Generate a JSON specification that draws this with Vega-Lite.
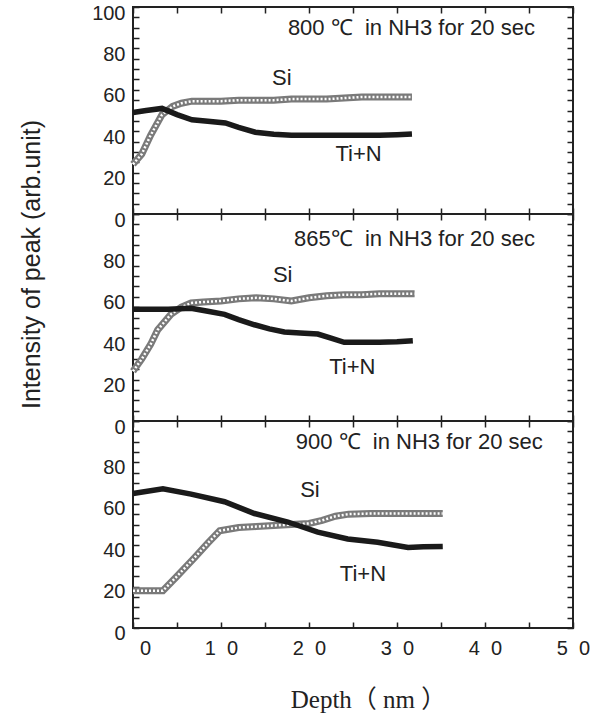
{
  "$schema": "https://vega.github.io/schema/vega-lite/v6.json",
  "padding": {"left": 17, "top": 2, "right": 5, "bottom": 5},
  "spacing": 0,
  "bounds": "flush",
  "config": {
    "view": {"stroke": "#222", "strokeWidth": 2},
    "font": "Liberation Sans",
    "axis": {"domain": false, "grid": false, "tickColor": "#222", "tickWidth": 1.5, "labelFont": "Liberation Sans", "labelFontSize": 20, "labelColor": "#222", "titleColor": "#222", "labelFlush": false, "labelOverlap": false},
    "text": {"font": "Liberation Sans", "fontSize": 22, "color": "#222"}
  },
  "datasets": {
    "lines": [
      {"panel": "800", "series": "Si", "depth": 0, "intensity": 24},
      {"panel": "800", "series": "Si", "depth": 1, "intensity": 29},
      {"panel": "800", "series": "Si", "depth": 2, "intensity": 38},
      {"panel": "800", "series": "Si", "depth": 3.3, "intensity": 48},
      {"panel": "800", "series": "Si", "depth": 4.5, "intensity": 52},
      {"panel": "800", "series": "Si", "depth": 5.5, "intensity": 53.5},
      {"panel": "800", "series": "Si", "depth": 6.7, "intensity": 54.5},
      {"panel": "800", "series": "Si", "depth": 8, "intensity": 54.5},
      {"panel": "800", "series": "Si", "depth": 10, "intensity": 54.5},
      {"panel": "800", "series": "Si", "depth": 12, "intensity": 55},
      {"panel": "800", "series": "Si", "depth": 14, "intensity": 55},
      {"panel": "800", "series": "Si", "depth": 16, "intensity": 55},
      {"panel": "800", "series": "Si", "depth": 18, "intensity": 55.5},
      {"panel": "800", "series": "Si", "depth": 20, "intensity": 55.5},
      {"panel": "800", "series": "Si", "depth": 22, "intensity": 55.5},
      {"panel": "800", "series": "Si", "depth": 24, "intensity": 56},
      {"panel": "800", "series": "Si", "depth": 26, "intensity": 56.5},
      {"panel": "800", "series": "Si", "depth": 28, "intensity": 56.5},
      {"panel": "800", "series": "Si", "depth": 30, "intensity": 56.5},
      {"panel": "800", "series": "Si", "depth": 31.7, "intensity": 56.5},
      {"panel": "800", "series": "Ti+N", "depth": 0, "intensity": 49},
      {"panel": "800", "series": "Ti+N", "depth": 1.5, "intensity": 50},
      {"panel": "800", "series": "Ti+N", "depth": 3.3, "intensity": 51},
      {"panel": "800", "series": "Ti+N", "depth": 5, "intensity": 48},
      {"panel": "800", "series": "Ti+N", "depth": 6.7, "intensity": 45.5},
      {"panel": "800", "series": "Ti+N", "depth": 8.5, "intensity": 44.8},
      {"panel": "800", "series": "Ti+N", "depth": 10.5, "intensity": 44},
      {"panel": "800", "series": "Ti+N", "depth": 12, "intensity": 41.8},
      {"panel": "800", "series": "Ti+N", "depth": 13.9, "intensity": 39.5},
      {"panel": "800", "series": "Ti+N", "depth": 16, "intensity": 38.5},
      {"panel": "800", "series": "Ti+N", "depth": 18, "intensity": 38},
      {"panel": "800", "series": "Ti+N", "depth": 20, "intensity": 38},
      {"panel": "800", "series": "Ti+N", "depth": 22, "intensity": 38},
      {"panel": "800", "series": "Ti+N", "depth": 24, "intensity": 38},
      {"panel": "800", "series": "Ti+N", "depth": 26, "intensity": 38},
      {"panel": "800", "series": "Ti+N", "depth": 28, "intensity": 38},
      {"panel": "800", "series": "Ti+N", "depth": 30, "intensity": 38.3},
      {"panel": "800", "series": "Ti+N", "depth": 31.7, "intensity": 38.7},
      {"panel": "865", "series": "Si", "depth": 0, "intensity": 24},
      {"panel": "865", "series": "Si", "depth": 1, "intensity": 30},
      {"panel": "865", "series": "Si", "depth": 2, "intensity": 37},
      {"panel": "865", "series": "Si", "depth": 2.8, "intensity": 44},
      {"panel": "865", "series": "Si", "depth": 4.3, "intensity": 51.5},
      {"panel": "865", "series": "Si", "depth": 5.5, "intensity": 55},
      {"panel": "865", "series": "Si", "depth": 6.6, "intensity": 57},
      {"panel": "865", "series": "Si", "depth": 8, "intensity": 57.5},
      {"panel": "865", "series": "Si", "depth": 10, "intensity": 58},
      {"panel": "865", "series": "Si", "depth": 12, "intensity": 59},
      {"panel": "865", "series": "Si", "depth": 14, "intensity": 59.5},
      {"panel": "865", "series": "Si", "depth": 16, "intensity": 59},
      {"panel": "865", "series": "Si", "depth": 18, "intensity": 58},
      {"panel": "865", "series": "Si", "depth": 20, "intensity": 59.5},
      {"panel": "865", "series": "Si", "depth": 22, "intensity": 60.5},
      {"panel": "865", "series": "Si", "depth": 24, "intensity": 61},
      {"panel": "865", "series": "Si", "depth": 26, "intensity": 61},
      {"panel": "865", "series": "Si", "depth": 28, "intensity": 61.5},
      {"panel": "865", "series": "Si", "depth": 30, "intensity": 61.5},
      {"panel": "865", "series": "Si", "depth": 32, "intensity": 61.5},
      {"panel": "865", "series": "Ti+N", "depth": 0, "intensity": 54},
      {"panel": "865", "series": "Ti+N", "depth": 2, "intensity": 54},
      {"panel": "865", "series": "Ti+N", "depth": 4, "intensity": 54},
      {"panel": "865", "series": "Ti+N", "depth": 6.6, "intensity": 54.5},
      {"panel": "865", "series": "Ti+N", "depth": 8.5, "intensity": 53},
      {"panel": "865", "series": "Ti+N", "depth": 10.4, "intensity": 51.5},
      {"panel": "865", "series": "Ti+N", "depth": 12, "intensity": 49},
      {"panel": "865", "series": "Ti+N", "depth": 13.8, "intensity": 46.5},
      {"panel": "865", "series": "Ti+N", "depth": 15.5, "intensity": 44.5},
      {"panel": "865", "series": "Ti+N", "depth": 17.2, "intensity": 43},
      {"panel": "865", "series": "Ti+N", "depth": 19, "intensity": 42.5},
      {"panel": "865", "series": "Ti+N", "depth": 21, "intensity": 42},
      {"panel": "865", "series": "Ti+N", "depth": 22.5, "intensity": 40},
      {"panel": "865", "series": "Ti+N", "depth": 24, "intensity": 38},
      {"panel": "865", "series": "Ti+N", "depth": 26, "intensity": 38},
      {"panel": "865", "series": "Ti+N", "depth": 28, "intensity": 38},
      {"panel": "865", "series": "Ti+N", "depth": 30, "intensity": 38.3},
      {"panel": "865", "series": "Ti+N", "depth": 31.8, "intensity": 38.8},
      {"panel": "900", "series": "Si", "depth": 0, "intensity": 18},
      {"panel": "900", "series": "Si", "depth": 3.4, "intensity": 18},
      {"panel": "900", "series": "Si", "depth": 5, "intensity": 25},
      {"panel": "900", "series": "Si", "depth": 7, "intensity": 34},
      {"panel": "900", "series": "Si", "depth": 8.5, "intensity": 41},
      {"panel": "900", "series": "Si", "depth": 9.85, "intensity": 47},
      {"panel": "900", "series": "Si", "depth": 12, "intensity": 48.5},
      {"panel": "900", "series": "Si", "depth": 14, "intensity": 49},
      {"panel": "900", "series": "Si", "depth": 16, "intensity": 49.5},
      {"panel": "900", "series": "Si", "depth": 18, "intensity": 50},
      {"panel": "900", "series": "Si", "depth": 20, "intensity": 50.5},
      {"panel": "900", "series": "Si", "depth": 21.5, "intensity": 52},
      {"panel": "900", "series": "Si", "depth": 23, "intensity": 54},
      {"panel": "900", "series": "Si", "depth": 24.5, "intensity": 55},
      {"panel": "900", "series": "Si", "depth": 27, "intensity": 55.3},
      {"panel": "900", "series": "Si", "depth": 30, "intensity": 55.3},
      {"panel": "900", "series": "Si", "depth": 33, "intensity": 55.3},
      {"panel": "900", "series": "Si", "depth": 35.2, "intensity": 55.3},
      {"panel": "900", "series": "Ti+N", "depth": 0, "intensity": 65},
      {"panel": "900", "series": "Ti+N", "depth": 3.4, "intensity": 67.3},
      {"panel": "900", "series": "Ti+N", "depth": 6.6, "intensity": 64.7},
      {"panel": "900", "series": "Ti+N", "depth": 10.4, "intensity": 61},
      {"panel": "900", "series": "Ti+N", "depth": 13.8, "intensity": 55.3},
      {"panel": "900", "series": "Ti+N", "depth": 17.6, "intensity": 51.2},
      {"panel": "900", "series": "Ti+N", "depth": 21, "intensity": 46.3},
      {"panel": "900", "series": "Ti+N", "depth": 24.4, "intensity": 43},
      {"panel": "900", "series": "Ti+N", "depth": 27.8, "intensity": 41.4},
      {"panel": "900", "series": "Ti+N", "depth": 31.25, "intensity": 38.9},
      {"panel": "900", "series": "Ti+N", "depth": 33, "intensity": 39.2},
      {"panel": "900", "series": "Ti+N", "depth": 35.2, "intensity": 39.4}
    ],
    "labels": [
      {"panel": "800", "text": "800 ℃\u00a0 in NH3 for 20 sec", "depth": 17.6, "intensity": 90},
      {"panel": "800", "text": "Si", "depth": 15.8, "intensity": 65.7},
      {"panel": "800", "text": "Ti+N", "depth": 23, "intensity": 29},
      {"panel": "865", "text": "865℃\u00a0 in NH3 for 20 sec", "depth": 18.3, "intensity": 88},
      {"panel": "865", "text": "Si", "depth": 15.9, "intensity": 70.6},
      {"panel": "865", "text": "Ti+N", "depth": 22.3, "intensity": 26},
      {"panel": "900", "text": "900 ℃\u00a0 in NH3 for 20 sec", "depth": 18.5, "intensity": 90},
      {"panel": "900", "text": "Si", "depth": 19, "intensity": 66.5},
      {"panel": "900", "text": "Ti+N", "depth": 23.5, "intensity": 26}
    ]
  },
  "vconcat": [
    {
      "width": 440, "height": 207,
      "layer": [
        {"data": {"name": "lines"}, "transform": [{"filter": "datum.panel == '800' && datum.series == 'Si'"}],
         "mark": {"type": "line", "color": "#7a7a7a", "strokeWidth": 7},
         "encoding": {
           "x": {"field": "depth", "type": "quantitative", "scale": {"domain": [0, 50]}, "axis": null},
           "y": {"field": "intensity", "type": "quantitative", "scale": {"domain": [0, 100]}, "axis": {"orient": "left", "values": [0, 20, 40, 60, 80, 100], "ticks": false, "labelPadding": 8, "labelOffset": 6, "title": null}}}},
        {"data": {"name": "lines"}, "transform": [{"filter": "datum.panel == '800' && datum.series == 'Si'"}],
         "mark": {"type": "line", "color": "#ffffff", "strokeWidth": 2.5, "strokeDash": [2, 2]},
         "encoding": {
           "x": {"field": "depth", "type": "quantitative", "axis": {"orient": "bottom", "values": [0,5,10,15,20,25,30,35,40,45,50], "labels": false, "title": null, "tickSize": -6}},
           "y": {"field": "intensity", "type": "quantitative", "axis": {"orient": "left", "values": [0,5,10,15,20,25,30,35,40,45,50,55,60,65,70,75,80,85,90,95,100], "labels": false, "title": null, "tickSize": -6}}}},
        {"data": {"name": "lines"}, "transform": [{"filter": "datum.panel == '800' && datum.series == 'Ti+N'"}],
         "mark": {"type": "line", "color": "#1a1a1a", "strokeWidth": 5.5},
         "encoding": {
           "x": {"field": "depth", "type": "quantitative", "axis": {"orient": "top", "values": [0,5,10,15,20,25,30,35,40,45,50], "labels": false, "title": null, "tickSize": -6}},
           "y": {"field": "intensity", "type": "quantitative", "axis": {"orient": "right", "values": [0,5,10,15,20,25,30,35,40,45,50,55,60,65,70,75,80,85,90,95,100], "labels": false, "title": null, "tickSize": -6}}}},
        {"data": {"name": "labels"}, "transform": [{"filter": "datum.panel == '800'"}],
         "mark": {"type": "text", "align": "left", "baseline": "middle"},
         "encoding": {
           "x": {"field": "depth", "type": "quantitative", "axis": null},
           "y": {"field": "intensity", "type": "quantitative", "axis": null},
           "text": {"field": "text"}}}
      ],
      "resolve": {"axis": {"x": "independent", "y": "independent"}}
    },
    {
      "width": 440, "height": 207,
      "layer": [
        {"data": {"name": "lines"}, "transform": [{"filter": "datum.panel == '865' && datum.series == 'Si'"}],
         "mark": {"type": "line", "color": "#7a7a7a", "strokeWidth": 7},
         "encoding": {
           "x": {"field": "depth", "type": "quantitative", "scale": {"domain": [0, 50]}, "axis": null},
           "y": {"field": "intensity", "type": "quantitative", "scale": {"domain": [0, 100]}, "axis": {"orient": "left", "values": [0, 20, 40, 60, 80], "ticks": false, "labelPadding": 8, "labelOffset": 6, "title": "Intensity of peak (arb.unit)", "titleFont": "Liberation Sans", "titleFontSize": 25, "titleFontWeight": "normal", "titleX": -89, "titleY": 50, "titleAngle": -90, "titleAlign": "center", "titleBaseline": "bottom"}}}},
        {"data": {"name": "lines"}, "transform": [{"filter": "datum.panel == '865' && datum.series == 'Si'"}],
         "mark": {"type": "line", "color": "#ffffff", "strokeWidth": 2.5, "strokeDash": [2, 2]},
         "encoding": {
           "x": {"field": "depth", "type": "quantitative", "axis": {"orient": "bottom", "values": [0,5,10,15,20,25,30,35,40,45,50], "labels": false, "title": null, "tickSize": -6}},
           "y": {"field": "intensity", "type": "quantitative", "axis": {"orient": "left", "values": [0,5,10,15,20,25,30,35,40,45,50,55,60,65,70,75,80,85,90,95,100], "labels": false, "title": null, "tickSize": -6}}}},
        {"data": {"name": "lines"}, "transform": [{"filter": "datum.panel == '865' && datum.series == 'Ti+N'"}],
         "mark": {"type": "line", "color": "#1a1a1a", "strokeWidth": 5.5},
         "encoding": {
           "x": {"field": "depth", "type": "quantitative", "axis": {"orient": "top", "values": [0,5,10,15,20,25,30,35,40,45,50], "labels": false, "title": null, "tickSize": -6}},
           "y": {"field": "intensity", "type": "quantitative", "axis": {"orient": "right", "values": [0,5,10,15,20,25,30,35,40,45,50,55,60,65,70,75,80,85,90,95,100], "labels": false, "title": null, "tickSize": -6}}}},
        {"data": {"name": "labels"}, "transform": [{"filter": "datum.panel == '865'"}],
         "mark": {"type": "text", "align": "left", "baseline": "middle"},
         "encoding": {
           "x": {"field": "depth", "type": "quantitative", "axis": null},
           "y": {"field": "intensity", "type": "quantitative", "axis": null},
           "text": {"field": "text"}}}
      ],
      "resolve": {"axis": {"x": "independent", "y": "independent"}}
    },
    {
      "width": 440, "height": 207,
      "layer": [
        {"data": {"name": "lines"}, "transform": [{"filter": "datum.panel == '900' && datum.series == 'Si'"}],
         "mark": {"type": "line", "color": "#7a7a7a", "strokeWidth": 7},
         "encoding": {
           "x": {"field": "depth", "type": "quantitative", "scale": {"domain": [0, 50]}, "axis": {"orient": "bottom", "values": [0, 10, 20, 30, 40, 50], "ticks": false, "labelPadding": 10, "labelOffset": {"condition": {"test": "datum.value == 0", "value": 12}, "value": 0}, "labelExpr": "datum.value == 0 ? '0' : floor(datum.value / 10) + '\u00a0\u00a00'", "title": "Depth（ nm ）", "titleFont": "Liberation Serif, Noto Sans CJK JP", "titleFontSize": 25, "titleFontWeight": "normal", "titleX": 235, "titleY": 71, "titleAlign": "center", "titleBaseline": "middle"}},
           "y": {"field": "intensity", "type": "quantitative", "scale": {"domain": [0, 100]}, "axis": {"orient": "left", "values": [0, 20, 40, 60, 80], "ticks": false, "labelPadding": 8, "labelOffset": 5, "title": null}}}},
        {"data": {"name": "lines"}, "transform": [{"filter": "datum.panel == '900' && datum.series == 'Si'"}],
         "mark": {"type": "line", "color": "#ffffff", "strokeWidth": 2.5, "strokeDash": [2, 2]},
         "encoding": {
           "x": {"field": "depth", "type": "quantitative", "axis": {"orient": "bottom", "values": [0,5,10,15,20,25,30,35,40,45,50], "labels": false, "title": null, "tickSize": -6}},
           "y": {"field": "intensity", "type": "quantitative", "axis": {"orient": "left", "values": [0,5,10,15,20,25,30,35,40,45,50,55,60,65,70,75,80,85,90,95,100], "labels": false, "title": null, "tickSize": -6}}}},
        {"data": {"name": "lines"}, "transform": [{"filter": "datum.panel == '900' && datum.series == 'Ti+N'"}],
         "mark": {"type": "line", "color": "#1a1a1a", "strokeWidth": 5.5},
         "encoding": {
           "x": {"field": "depth", "type": "quantitative", "axis": {"orient": "top", "values": [0,5,10,15,20,25,30,35,40,45,50], "labels": false, "title": null, "tickSize": -6}},
           "y": {"field": "intensity", "type": "quantitative", "axis": {"orient": "right", "values": [0,5,10,15,20,25,30,35,40,45,50,55,60,65,70,75,80,85,90,95,100], "labels": false, "title": null, "tickSize": -6}}}},
        {"data": {"name": "labels"}, "transform": [{"filter": "datum.panel == '900'"}],
         "mark": {"type": "text", "align": "left", "baseline": "middle"},
         "encoding": {
           "x": {"field": "depth", "type": "quantitative", "axis": null},
           "y": {"field": "intensity", "type": "quantitative", "axis": null},
           "text": {"field": "text"}}}
      ],
      "resolve": {"axis": {"x": "independent", "y": "independent"}}
    }
  ]
}
